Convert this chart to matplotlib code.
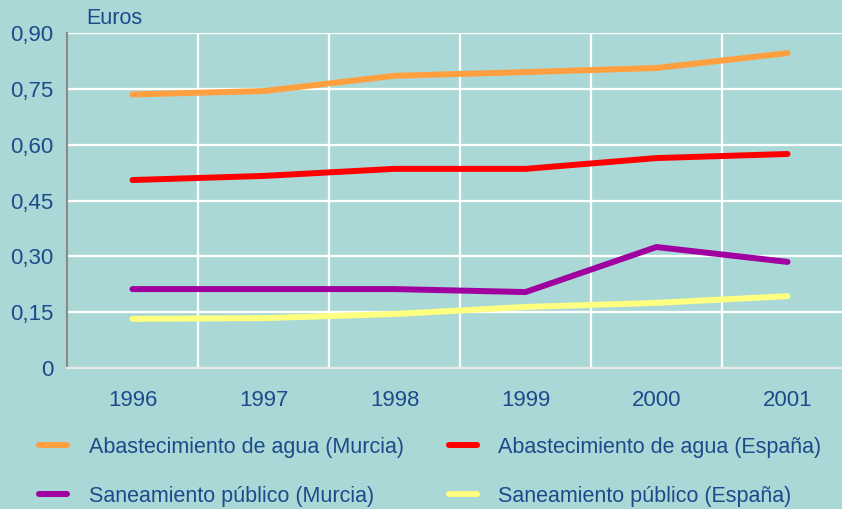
import matplotlib.pyplot as plt
from matplotlib.ticker import FixedLocator, FuncFormatter

plt.rcParams['font.family'] = ['Liberation Sans', 'DejaVu Sans']

years = ["1996", "1997", "1998", "1999", "2000", "2001"]
agua_murcia = [0.735, 0.744, 0.785, 0.795, 0.806, 0.846]
agua_espana = [0.505, 0.516, 0.535, 0.535, 0.564, 0.575]
saneam_murcia = [0.212, 0.212, 0.212, 0.204, 0.325, 0.285]
saneam_espana = [0.132, 0.134, 0.145, 0.164, 0.175, 0.193]

labels = ["Abastecimiento de agua (Murcia)", "Abastecimiento de agua (España)",
          "Saneamiento público (Murcia)", "Saneamiento público (España)"]
colors = ["#ff9f40", "#ff0000", "#a000a0", "#ffff80"]

bg = "#aad8d6"
txt = "#1c4b8c"

fig = plt.figure(figsize=(8.42, 5.09), dpi=100, facecolor=bg)
ax = fig.add_axes([67/842, 1-368/509, 1-67/842, 335/509])
ax.set_facecolor(bg)

x = list(range(len(years)))
series = [agua_murcia, agua_espana, saneam_murcia, saneam_espana]
handles = []
for s, c, lab in zip(series, colors, labels):
    h, = ax.plot(x, s, color=c, lw=4.3, solid_capstyle="round", label=lab, zorder=3)
    handles.append(h)

ax.set_xlim(-0.5, (842-67)/131 - 0.5)
ax.set_ylim(0, 0.90)
ax.set_yticks([0, 0.15, 0.30, 0.45, 0.60, 0.75, 0.90])
ax.yaxis.set_major_formatter(FuncFormatter(lambda v, p: "0" if v == 0 else f"{v:.2f}".replace(".", ",")))
ax.set_xticks(x)
ax.set_xticklabels(years)
ax.xaxis.set_minor_locator(FixedLocator([i + 0.5 for i in range(len(years))]))
ax.tick_params(axis="both", which="both", length=0, labelsize=16, labelcolor=txt)
ax.tick_params(axis="y", pad=10)
ax.tick_params(axis="x", pad=16)

ax.grid(axis="y", which="major", color="white", lw=1.6)
ax.grid(axis="x", which="minor", color="white", lw=1.6)
ax.set_axisbelow(True)
for sp in ["top", "right"]:
    ax.spines[sp].set_visible(False)
ax.spines["left"].set_color("#8a8a8a")
ax.spines["left"].set_linewidth(1.5)
ax.spines["bottom"].set_color("#e8e8e8")
ax.spines["bottom"].set_linewidth(1.5)

fig.text(86/842, 1-19/509, "Euros", fontsize=15.5, color=txt, va="center", ha="left")

# matplotlib fills legend columns first, so order for row-wise reading
order = [0, 2, 1, 3]
leg = fig.legend(handles=[handles[i] for i in order], loc="upper left",
                 bbox_to_anchor=(39/842, 1-437/509),
                 ncol=2, frameon=False, fontsize=15.5, handlelength=1.3,
                 handletextpad=1.0, columnspacing=2.1, labelspacing=1.3,
                 borderaxespad=0, borderpad=0)
for t in leg.get_texts():
    t.set_color(txt)

fig.savefig("out.png", dpi=100, facecolor=bg)
